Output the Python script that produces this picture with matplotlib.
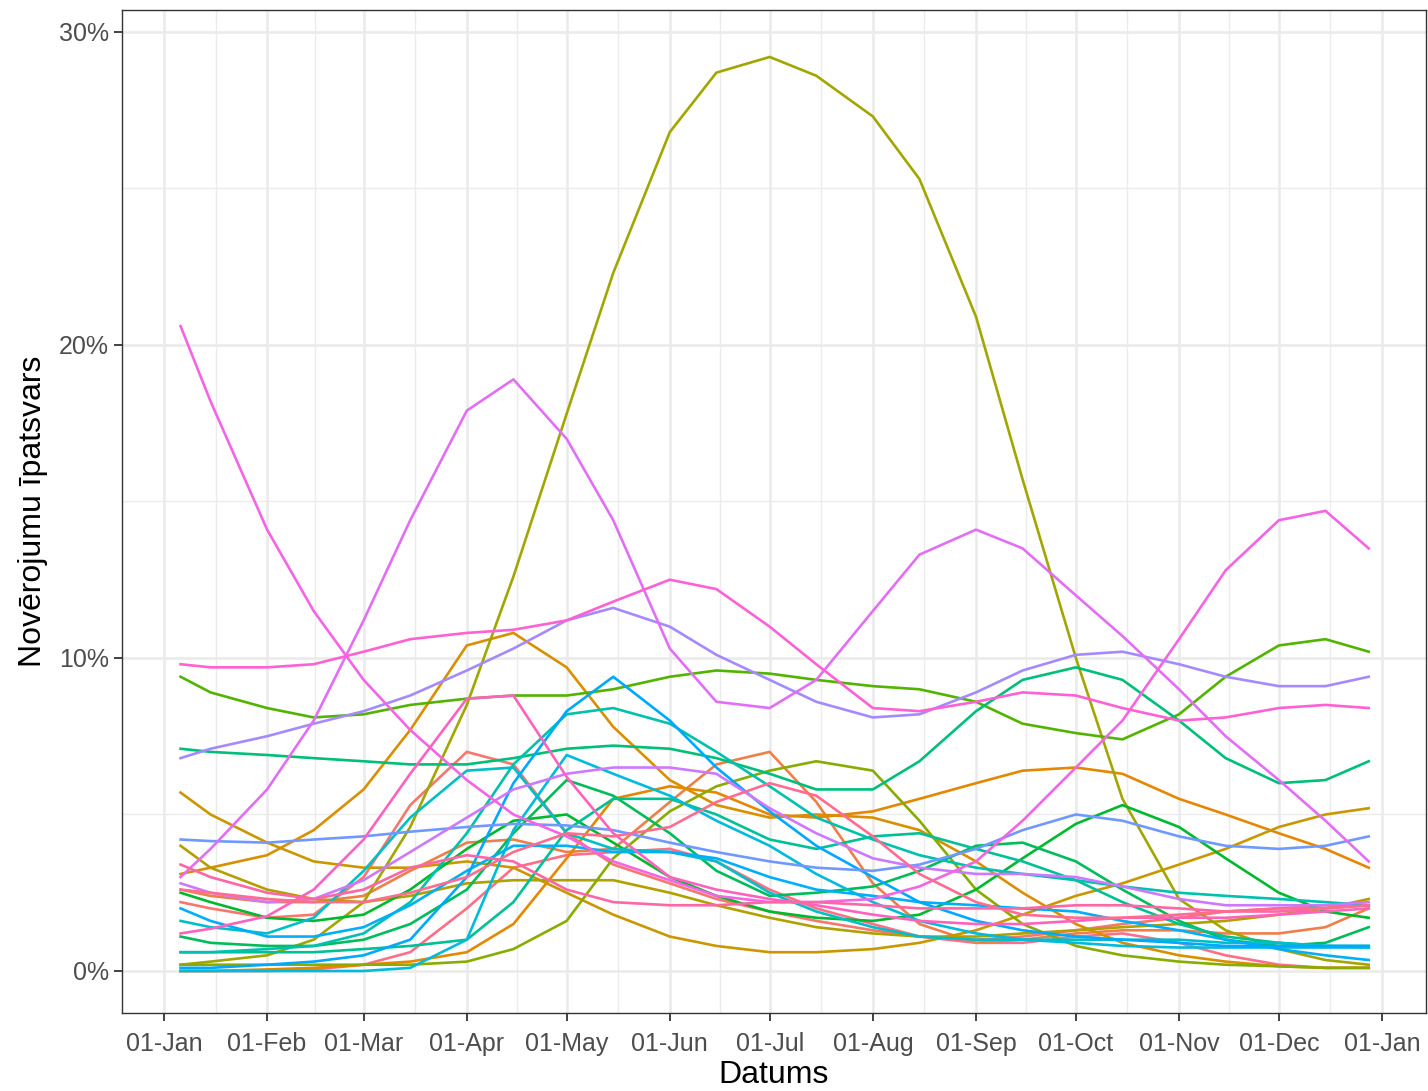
import datetime as dt
import numpy as np
import matplotlib
matplotlib.use("Agg")
import matplotlib.pyplot as plt
import matplotlib.dates as mdates
from matplotlib.ticker import FixedLocator, FuncFormatter

# sample dates (2020)
dates = ["2020-01-06", "2020-01-15", "2020-02-01", "2020-02-15", "2020-03-01",
         "2020-03-15", "2020-04-01", "2020-04-15", "2020-05-01", "2020-05-15",
         "2020-06-01", "2020-06-15", "2020-07-01", "2020-07-15", "2020-08-01",
         "2020-08-15", "2020-09-01", "2020-09-15", "2020-10-01", "2020-10-15",
         "2020-11-01", "2020-11-15", "2020-12-01", "2020-12-15", "2020-12-28"]

# shares in % per series
red_apr = [2.2, 2.0, 1.7, 1.8, 3.0, 5.3, 7.0, 6.6, 4.4, 3.4, 2.8, 2.3, 1.9, 1.6, 1.3, 1.1, 1.0, 1.1, 1.3, 1.5, 1.7, 1.9, 2.0, 2.1, 2.1]
red_jun = [2.6, 2.4, 2.2, 2.2, 2.4, 3.2, 4.1, 4.2, 3.8, 3.9, 5.4, 6.6, 7.0, 5.4, 2.8, 1.5, 0.9, 1.0, 1.2, 1.3, 1.3, 1.2, 1.2, 1.4, 2.0]
orange_c = [0.0, 0.0, 0.05, 0.1, 0.2, 0.3, 0.6, 1.5, 3.6, 5.5, 5.9, 5.7, 5.0, 4.9, 5.1, 5.5, 6.0, 6.4, 6.5, 6.3, 5.5, 5.0, 4.4, 3.9, 3.3]
orange_b = [3.1, 3.3, 3.7, 4.5, 5.8, 7.7, 10.4, 10.8, 9.7, 7.8, 6.1, 5.3, 4.9, 5.0, 4.9, 4.5, 3.5, 2.5, 1.5, 0.9, 0.5, 0.3, 0.15, 0.1, 0.1]
gold_a = [5.7, 5.0, 4.1, 3.5, 3.3, 3.3, 3.5, 3.3, 2.5, 1.8, 1.1, 0.8, 0.6, 0.6, 0.7, 0.9, 1.3, 1.8, 2.4, 2.8, 3.4, 3.9, 4.6, 5.0, 5.2]
olive_flat = [4.0, 3.3, 2.6, 2.3, 2.2, 2.4, 2.8, 2.9, 2.9, 2.9, 2.5, 2.1, 1.7, 1.4, 1.2, 1.1, 1.1, 1.2, 1.3, 1.4, 1.5, 1.6, 1.8, 2.0, 2.3]
olive_big = [0.2, 0.3, 0.5, 1.0, 2.2, 4.6, 8.5, 12.6, 17.8, 22.3, 26.8, 28.7, 29.2, 28.6, 27.3, 25.3, 20.9, 15.7, 10.0, 5.5, 2.3, 1.3, 0.7, 0.35, 0.2]
olivegreen_jul = [0.2, 0.2, 0.2, 0.2, 0.2, 0.2, 0.3, 0.7, 1.6, 3.6, 5.1, 5.9, 6.4, 6.7, 6.4, 4.8, 2.6, 1.5, 0.8, 0.5, 0.3, 0.2, 0.15, 0.1, 0.1]
green_9 = [9.4, 8.9, 8.4, 8.1, 8.2, 8.5, 8.7, 8.8, 8.8, 9.0, 9.4, 9.6, 9.5, 9.3, 9.1, 9.0, 8.6, 7.9, 7.6, 7.4, 8.2, 9.4, 10.4, 10.6, 10.2]
green_oct = [2.5, 2.2, 1.7, 1.6, 1.8, 2.6, 3.9, 4.8, 5.0, 4.1, 3.0, 2.4, 1.9, 1.7, 1.6, 1.8, 2.6, 3.6, 4.7, 5.3, 4.6, 3.6, 2.5, 1.9, 1.7]
green_dark = [1.1, 0.9, 0.8, 0.8, 1.0, 1.5, 2.6, 4.4, 6.1, 5.6, 4.4, 3.2, 2.4, 2.5, 2.7, 3.2, 4.0, 4.1, 3.5, 2.6, 1.6, 1.0, 0.8, 0.9, 1.4]
green_7 = [7.1, 7.0, 6.9, 6.8, 6.7, 6.6, 6.6, 6.8, 7.1, 7.2, 7.1, 6.8, 6.3, 5.8, 5.8, 6.7, 8.3, 9.3, 9.7, 9.3, 8.0, 6.8, 6.0, 6.1, 6.7]
teal_jun = [0.6, 0.6, 0.6, 0.6, 0.7, 0.8, 1.0, 2.2, 4.5, 5.5, 5.5, 5.0, 4.2, 3.9, 4.3, 4.4, 3.9, 3.5, 2.9, 2.2, 1.5, 1.1, 0.9, 0.8, 0.8]
teal_may = [0.6, 0.6, 0.7, 0.8, 1.2, 2.2, 4.4, 6.6, 8.2, 8.4, 7.9, 7.0, 5.9, 4.9, 4.2, 3.7, 3.3, 3.1, 2.9, 2.7, 2.5, 2.4, 2.3, 2.2, 2.1]
teal_apr = [1.6, 1.4, 1.2, 1.7, 3.2, 4.9, 6.4, 6.5, 4.4, 3.9, 3.8, 3.5, 2.5, 1.9, 1.4, 1.1, 1.0, 1.0, 1.0, 1.0, 1.0, 0.9, 0.9, 0.8, 0.75]
cyan_apr = [0.0, 0.0, 0.0, 0.0, 0.0, 0.1, 1.0, 4.5, 6.9, 6.3, 5.6, 4.8, 4.0, 3.1, 2.2, 1.6, 1.2, 1.0, 0.9, 0.8, 0.75, 0.75, 0.75, 0.75, 0.75]
blue_2 = [2.0, 1.6, 1.1, 1.1, 1.4, 2.1, 3.2, 4.0, 4.0, 3.8, 3.8, 3.6, 3.0, 2.6, 2.4, 2.2, 2.1, 2.0, 1.9, 1.6, 1.3, 1.0, 0.7, 0.5, 0.35]
blue_bright = [0.1, 0.1, 0.2, 0.3, 0.5, 1.0, 3.0, 6.0, 8.3, 9.4, 8.0, 6.5, 5.1, 4.0, 3.0, 2.2, 1.6, 1.3, 1.1, 1.0, 0.9, 0.8, 0.8, 0.8, 0.8]
blue_flat = [4.2, 4.15, 4.1, 4.2, 4.3, 4.45, 4.6, 4.7, 4.65, 4.5, 4.1, 3.8, 3.5, 3.3, 3.2, 3.4, 3.9, 4.5, 5.0, 4.8, 4.3, 4.0, 3.9, 4.0, 4.3]
bluepurple = [6.8, 7.1, 7.5, 7.9, 8.3, 8.8, 9.6, 10.3, 11.2, 11.6, 11.0, 10.1, 9.3, 8.6, 8.1, 8.2, 8.9, 9.6, 10.1, 10.2, 9.8, 9.4, 9.1, 9.1, 9.4]
lavender = [2.8, 2.5, 2.2, 2.3, 2.9, 3.8, 4.9, 5.8, 6.3, 6.5, 6.5, 6.3, 5.2, 4.4, 3.6, 3.3, 3.1, 3.1, 3.0, 2.7, 2.3, 2.1, 2.1, 2.1, 2.2]
purple_apr = [3.0, 3.9, 5.8, 8.0, 11.2, 14.4, 17.9, 18.9, 17.0, 14.4, 10.3, 8.6, 8.4, 9.3, 11.5, 13.3, 14.1, 13.5, 12.0, 10.7, 9.0, 7.5, 6.1, 4.8, 3.5]
magenta_high = [20.6, 18.2, 14.1, 11.5, 9.3, 7.7, 6.1, 5.0, 4.3, 3.5, 2.9, 2.4, 2.2, 2.2, 2.3, 2.7, 3.5, 4.8, 6.5, 8.0, 10.6, 12.8, 14.4, 14.7, 13.5]
pink_10 = [9.8, 9.7, 9.7, 9.8, 10.2, 10.6, 10.8, 10.9, 11.2, 11.8, 12.5, 12.2, 11.0, 9.8, 8.4, 8.3, 8.6, 8.9, 8.8, 8.4, 8.0, 8.1, 8.4, 8.5, 8.4]
pink_apr = [1.2, 1.35, 1.75, 2.6, 4.2, 6.3, 8.7, 8.8, 6.2, 4.4, 3.0, 2.6, 2.3, 2.1, 1.8, 1.6, 1.5, 1.5, 1.6, 1.7, 1.7, 1.7, 1.8, 1.9, 2.0]
pink_mar = [3.4, 3.0, 2.5, 2.3, 2.6, 3.3, 3.7, 3.5, 2.6, 2.2, 2.1, 2.1, 2.2, 2.2, 2.1, 2.0, 2.0, 2.0, 2.1, 2.1, 2.0, 1.9, 1.9, 2.0, 2.1]
pink_jul = [2.6, 2.5, 2.3, 2.2, 2.2, 2.5, 3.0, 3.8, 4.4, 4.3, 4.6, 5.4, 6.0, 5.6, 4.3, 3.1, 2.2, 1.8, 1.7, 1.7, 1.8, 1.9, 2.0, 2.0, 2.1]
pink_zero = [0.0, 0.0, 0.0, 0.05, 0.2, 0.6, 2.0, 3.3, 3.7, 3.8, 3.9, 3.5, 2.6, 2.0, 1.5, 1.1, 0.9, 0.9, 1.1, 1.2, 0.9, 0.5, 0.2, 0.1, 0.1]

series = [red_apr, pink_zero, red_jun, orange_c, orange_b, gold_a, olive_flat, olive_big,
          olivegreen_jul, green_9, green_oct, green_dark, green_7, teal_jun, teal_may,
          teal_apr, cyan_apr, blue_2, blue_bright, blue_flat, bluepurple, lavender,
          purple_apr, magenta_high, pink_10, pink_apr, pink_mar, pink_jul]
hues = [15, 5, 27, 39, 50, 62, 78, 88, 100, 118, 133, 145, 157, 170, 182, 196, 210,
        232, 242, 258, 272, 288, 300, 314, 326, 338, 350, 360]


def hcl_hex(h, c=100, l=65):
    hr = np.deg2rad(h)
    u, v = c * np.cos(hr), c * np.sin(hr)
    xn, yn, zn = 95.047, 100.0, 108.883
    y = yn * ((l + 16) / 116) ** 3
    den = xn + 15 * yn + 3 * zn
    up = u / (13 * l) + 4 * xn / den
    vp = v / (13 * l) + 9 * yn / den
    x = 9 * y * up / (4 * vp)
    z = y * (12 - 3 * up - 20 * vp) / (4 * vp)
    x, y, z = x / 100, y / 100, z / 100
    rgb = [3.2404542 * x - 1.5371385 * y - 0.4985314 * z,
           -0.9692660 * x + 1.8760108 * y + 0.0415560 * z,
           0.0556434 * x - 0.2040259 * y + 1.0572252 * z]
    out = []
    for ch in rgb:
        ch = 12.92 * ch if ch <= 0.0031308 else 1.055 * ch ** (1 / 2.4) - 0.055
        out.append(min(max(ch, 0), 1))
    return tuple(out)


plt.rcParams['font.family'] = ['Liberation Sans', 'DejaVu Sans']

x = [dt.datetime.strptime(d, "%Y-%m-%d") for d in dates]

fig = plt.figure(figsize=(14.28, 10.91), dpi=100)
ax = fig.add_axes([122 / 1428, 1 - 1013 / 1091, 1304 / 1428, 1003 / 1091])

start = dt.datetime(2020, 1, 1)
ax.set_xlim(mdates.date2num(start - dt.timedelta(days=12.6)),
            mdates.date2num(start + dt.timedelta(days=379.2)))
ax.set_ylim(-1.342, 30.70)

months = [dt.datetime(2020, m, 1) for m in range(1, 13)] + [dt.datetime(2021, 1, 1)]
mnum = [mdates.date2num(m) for m in months]
minors = [(a + b) / 2 for a, b in zip(mnum[:-1], mnum[1:])]
ax.xaxis.set_major_locator(FixedLocator(mnum))
ax.xaxis.set_minor_locator(FixedLocator(minors))
ax.xaxis.set_major_formatter(mdates.DateFormatter("%d-%b"))
ax.yaxis.set_major_locator(FixedLocator([0, 10, 20, 30]))
ax.yaxis.set_minor_locator(FixedLocator([5, 15, 25]))
ax.yaxis.set_major_formatter(FuncFormatter(lambda v, p: f"{v:.0f}%"))

ax.grid(which='major', color='#EBEBEB', lw=1.9, zorder=0)
ax.grid(which='minor', color='#EBEBEB', lw=0.95, zorder=0)
ax.set_axisbelow(True)

for vals, h in zip(series, hues):
    ax.plot(x, vals, color=hcl_hex(h), lw=1.9, solid_joinstyle='round', zorder=2)

for s in ax.spines.values():
    s.set_color('#333333')
    s.set_linewidth(1.0)
ax.tick_params(which='major', length=5.5, width=1.3, color='#333333',
               labelsize=18, labelcolor='#4D4D4D')
ax.tick_params(axis='x', which='major', pad=8)
ax.tick_params(axis='y', which='major', pad=4)
ax.tick_params(which='minor', length=0)

ax.set_xlabel("Datums", fontsize=23, labelpad=3)
ax.set_ylabel("Novērojumu īpatsvars", fontsize=23, labelpad=8)

fig.savefig("out.png", dpi=100)
